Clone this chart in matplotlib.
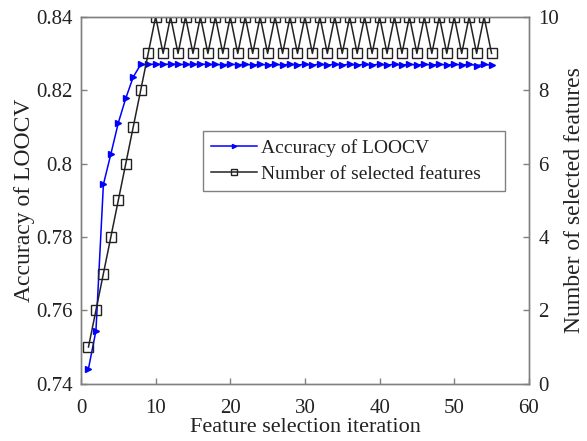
import matplotlib
matplotlib.use('Agg')
import matplotlib.pyplot as plt
import numpy as np

plt.rcParams['font.family'] = ['Liberation Serif', 'DejaVu Serif']

# 数据
iterations = list(range(1, 56))
accuracy = [0.7441, 0.7544, 0.7943, 0.8026, 0.8111, 0.8178, 0.8236, 0.8270, 0.8270, 0.8271,
            0.8270, 0.8271, 0.8270, 0.8270, 0.8270, 0.8271, 0.8270, 0.8270, 0.8269, 0.8271,
            0.8269, 0.8271, 0.8268, 0.8271, 0.8268, 0.8271, 0.8268, 0.8271, 0.8268, 0.8271,
            0.8268, 0.8271, 0.8268, 0.8271, 0.8268, 0.8271, 0.8268, 0.8271, 0.8268, 0.8271,
            0.8268, 0.8271, 0.8268, 0.8271, 0.8268, 0.8271, 0.8268, 0.8271, 0.8268, 0.8271,
            0.8268, 0.8271, 0.8267, 0.8270, 0.8268]
n_features = [1, 2, 3, 4, 5, 6, 7, 8, 9, 10,
              9, 10, 9, 10, 9, 10, 9, 10, 9, 10,
              9, 10, 9, 10, 9, 10, 9, 10, 9, 10,
              9, 10, 9, 10, 9, 10, 9, 10, 9, 10,
              9, 10, 9, 10, 9, 10, 9, 10, 9, 10,
              9, 10, 9, 10, 9]

x_ticks = [0, 10, 20, 30, 40, 50, 60]
acc_ticks = [0.74, 0.76, 0.78, 0.8, 0.82, 0.84]
acc_tick_labels = ['0.74', '0.76', '0.78', '0.8', '0.82', '0.84']
feat_ticks = [0, 2, 4, 6, 8, 10]

spine_color = '#808080'
text_color = '#222222'
fs = 15

fig = plt.figure(figsize=(5.87, 4.41), dpi=100)
ax1 = fig.add_axes([0.138, 0.130, 0.763, 0.832])
ax2 = ax1.twinx()

l1, = ax1.plot(iterations, accuracy, color='#0000FF', lw=1.1, marker='>',
               markersize=5, markerfacecolor='#0000FF', markeredgecolor='#0000FF',
               label='Accuracy of LOOCV')
l2, = ax2.plot(iterations, n_features, color='#222222', lw=1.1, marker='s',
               markersize=6.5, markerfacecolor='none', markeredgecolor='#222222',
               markeredgewidth=1.0, label='Number of selected features')

ax1.set_xlim(0, 60)
ax1.set_ylim(0.74, 0.84)
ax2.set_ylim(0, 10)
ax1.set_xticks(x_ticks)
ax1.set_yticks(acc_ticks)
ax1.set_yticklabels(acc_tick_labels)
ax2.set_yticks(feat_ticks)

for ax in (ax1, ax2):
    for s in ax.spines.values():
        s.set_color(spine_color)
        s.set_linewidth(1.0)
    ax.tick_params(direction='in', color=spine_color, labelsize=fs, labelcolor=text_color,
                   length=4, width=1.0)
ax1.tick_params(axis='x', pad=11)
ax1.tick_params(axis='y', pad=6)
ax2.tick_params(axis='y', pad=7)

ax1.set_xlabel('Feature selection iteration', fontsize=16, color=text_color, labelpad=0)
ax1.set_ylabel('Accuracy of LOOCV', fontsize=17, color=text_color, labelpad=1)
ax2.set_ylabel('Number of selected features', fontsize=17, color=text_color, labelpad=3)

leg = ax1.legend([l1, l2], [l1.get_label(), l2.get_label()], loc='upper left',
                 bbox_to_anchor=(0.272, 0.530, 0.674, 0.159), mode='expand',
                 borderaxespad=0, fontsize=14,
                 fancybox=False, framealpha=1, edgecolor=spine_color,
                 handlelength=2.4, handletextpad=0.2, labelspacing=0.45,
                 borderpad=0.4, markerscale=0.6)
leg.get_frame().set_linewidth(1.0)
for t in leg.get_texts():
    t.set_color(text_color)

fig.savefig('out.png', dpi=100)
